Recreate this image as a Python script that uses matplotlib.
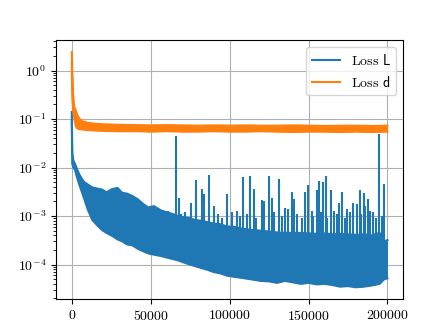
import numpy as np
import matplotlib
matplotlib.use("Agg")
import matplotlib.pyplot as plt

plt.rcParams['font.family'] = 'serif'
plt.rcParams['font.serif'] = ['cmr10']
plt.rcParams['mathtext.fontset'] = 'cm'
plt.rcParams['axes.formatter.use_mathtext'] = True
plt.rcParams['axes.unicode_minus'] = False

# Loss L: band (lower / upper edge of the noise)
L_x = [0, 300, 1000, 2000, 3500, 5000, 6600, 8000, 10000, 13000, 16000, 19300,
       22000, 25600, 29000, 32000, 35000, 38300, 42000, 45000, 48400, 52000,
       56600, 60000, 64000, 67400, 71000, 75000, 78000, 82000, 86000, 90000,
       94000, 98400, 103000, 108000, 113000, 119700, 125000, 130000, 135000,
       140000, 145000, 150000, 155000, 160000, 165000, 170000, 175000, 180000,
       185000, 190000, 195000, 198000, 200000]
L_hi = [0.14, 0.02, 0.014, 0.012, 0.009, 0.007, 0.0057, 0.005, 0.0045, 0.0039,
        0.0037, 0.0035, 0.0031, 0.0036, 0.0038, 0.003, 0.0029, 0.0026, 0.0022,
        0.0018, 0.0015, 0.0016, 0.0013, 0.0012, 0.0011, 0.001, 0.00095, 0.0009,
        0.00083, 0.0008, 0.00075, 0.0007, 0.00068, 0.00061, 0.0006, 0.00055,
        0.00052, 0.0005, 0.00048, 0.00046, 0.00045, 0.00045, 0.00045, 0.00044,
        0.00043, 0.00044, 0.00042, 0.00043, 0.00042, 0.00041, 0.00042, 0.0004,
        0.00045, 0.0003, 0.00032]
L_lo = [0.09, 0.012, 0.01, 0.009, 0.006, 0.0042, 0.003, 0.0022, 0.0014, 0.00083,
        0.00065, 0.00051, 0.00045, 0.00039, 0.00033, 0.0003, 0.00026, 0.00025,
        0.00021, 0.00019, 0.00017, 0.00016, 0.00015, 0.00014, 0.00013, 0.000122,
        0.00011, 0.0001, 9.3e-5, 8.5e-5, 7.8e-5, 7e-5, 6.6e-5, 5.9e-5, 5.6e-5,
        5.3e-5, 5e-5, 4.6e-5, 4.5e-5, 4.2e-5, 4.6e-5, 4.3e-5, 4e-5, 4.2e-5,
        3.9e-5, 4e-5, 3.8e-5, 3.5e-5, 3.6e-5, 3.4e-5, 3.5e-5, 3.7e-5, 4e-5,
        5e-5, 5.2e-5]

# Loss L: isolated spikes above the band
spike_x = [61000, 65900, 67800, 69300, 72000, 75800, 78600, 79000, 82800, 83900,
           87000, 90200, 92500, 95400, 98600, 101500, 104900, 106500, 108700,
           111000, 113000, 115500, 117000, 120800, 122000, 125000, 127100, 128000,
           131300, 133000, 135100, 137000, 139500, 141000, 143000, 146000, 147800,
           149900, 152000, 153000, 155600, 156600, 158000, 159400, 160900, 162000,
           164000, 166000, 168000, 169500, 171000, 173000, 174500, 176000, 178000,
           180700, 182800, 183500, 184900, 186000, 187500, 189000, 191000, 193000,
           194800, 196500, 198000]
spike_y = [0.0013, 0.044, 0.0024, 0.0011, 0.0012, 0.0019, 0.0056, 0.0022, 0.0036,
           0.0028, 0.0069, 0.0016, 0.0011, 0.0009, 0.0029, 0.0012, 0.0013, 0.001,
           0.0065, 0.0011, 0.0067, 0.0036, 0.0009, 0.0021, 0.002, 0.0066, 0.0023,
           0.0012, 0.0059, 0.001, 0.0015, 0.0014, 0.0031, 0.0022, 0.0011, 0.0009,
           0.0031, 0.0044, 0.0013, 0.001, 0.0035, 0.0052, 0.0012, 0.005, 0.0066,
           0.0009, 0.0035, 0.0013, 0.0011, 0.0019, 0.0031, 0.0009, 0.0014, 0.0012,
           0.0019, 0.0018, 0.0034, 0.0011, 0.003, 0.0016, 0.0022, 0.0013, 0.0012,
           0.0009, 0.0495, 0.001, 0.0045]

# Loss d: band
d_x = [0, 300, 800, 1500, 2500, 3500, 5000, 6600, 10000, 15000, 20000, 30000,
       40000, 50000, 60000, 70000, 80000, 90000, 100000, 110000, 120000, 130000,
       140000, 150000, 160000, 170000, 180000, 190000, 200000]
d_hi = [2.4, 1.0, 0.35, 0.18, 0.15, 0.12, 0.1, 0.09, 0.084, 0.08, 0.078,
        0.076, 0.075, 0.074, 0.075, 0.074, 0.073, 0.074, 0.073, 0.074, 0.073,
        0.073, 0.074, 0.073, 0.072, 0.073, 0.073, 0.072, 0.073]
d_lo = [1.5, 0.3, 0.15, 0.11, 0.072, 0.064, 0.062, 0.061, 0.059, 0.058, 0.057,
        0.056, 0.056, 0.055, 0.056, 0.055, 0.055, 0.056, 0.055, 0.055, 0.056,
        0.055, 0.054, 0.055, 0.055, 0.054, 0.055, 0.054, 0.055]

blue = '#1f77b4'
orange = '#ff7f0e'

fig, ax = plt.subplots(figsize=(4.48, 3.36), dpi=100)

ax.fill_between(L_x, L_lo, L_hi, color=blue, lw=0, zorder=2)
ax.plot(L_x, L_hi, color=blue, lw=1.5, label=r'Loss $\mathsf{L}$')
ax.plot(L_x, L_lo, color=blue, lw=1.5)
spike_base = np.interp(spike_x, L_x, L_lo)
ax.vlines(spike_x, spike_base, spike_y, color=blue, lw=1.5, zorder=2)

ax.fill_between(d_x, d_lo, d_hi, color=orange, lw=0, zorder=2)
ax.plot(d_x, d_hi, color=orange, lw=1.5, label=r'Loss $\mathsf{d}$')
ax.plot(d_x, d_lo, color=orange, lw=1.5)

ax.set_yscale('log')
ax.grid(True)
ax.legend(loc='upper right')

fig.savefig('out.png', dpi=100)
